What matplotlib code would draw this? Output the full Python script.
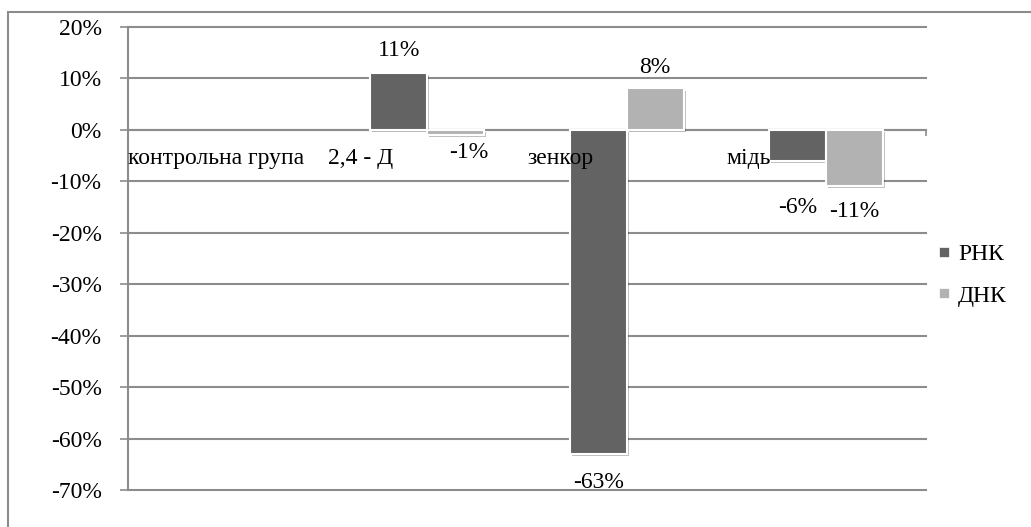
import numpy as np
import matplotlib
matplotlib.use("Agg")
import matplotlib.pyplot as plt
from matplotlib.lines import Line2D
from matplotlib.patches import Rectangle
import matplotlib.patheffects as pe

plt.rcParams['font.family'] = ['Liberation Serif', 'DejaVu Serif']

categories = ["контрольна група", "2,4 - Д", "зенкор", "мідь"]
series_names = ["РНК", "ДНК"]
rna = [np.nan, 0.11, -0.63, -0.06]
dna = [np.nan, -0.01, 0.08, -0.11]
y_ticks = [0.2, 0.1, 0.0, -0.1, -0.2, -0.3, -0.4, -0.5, -0.6, -0.7]

colors = ["#636363", "#b2b2b2"]
grid_col = "#8c8c8c"
FS = 17

W, H = 1031, 527
fig = plt.figure(figsize=(W / 100, H / 100), dpi=100)

def px(x0, y0, x1, y1):
    return [x0 / W, 1 - y1 / H, (x1 - x0) / W, (y1 - y0) / H]

ax = fig.add_axes(px(128, 26.7, 926, 490))

# outer chart frame (runs off the right and bottom of the canvas)
fig.patches.append(Rectangle((7.5 / W, -0.1), 1.2, 1 - 11.7 / H + 0.1,
                             transform=fig.transFigure, fill=False,
                             edgecolor=grid_col, linewidth=1.5, zorder=0))

x = np.arange(len(categories))
bw = 1 / 3.5
shadow = [pe.SimplePatchShadow(offset=(1.5, -1.5), shadow_rgbFace="#000000", alpha=0.25),
          pe.Normal()]
bars_r = ax.bar(x - bw / 2, rna, bw, color=colors[0], edgecolor="white",
                linewidth=1.5, zorder=3)
bars_d = ax.bar(x + bw / 2, dna, bw, color=colors[1], edgecolor="white",
                linewidth=1.5, zorder=3)
for b in list(bars_r) + list(bars_d):
    b.set_path_effects(shadow)

ax.set_xlim(-0.5, len(categories) - 0.5)
ax.set_ylim(-0.7, 0.2)

# value labels (pixel offsets from the bar end)
label_dy = {("r", 1): 23, ("d", 1): -18, ("r", 2): -29, ("d", 2): 21,
            ("r", 3): -47, ("d", 3): -25}
label_dx = {("d", 1): 13}
for key, vals, off in (("r", rna, -bw / 2), ("d", dna, bw / 2)):
    for i, v in enumerate(vals):
        if np.isnan(v):
            continue
        dy = label_dy[(key, i)] / 100 * 72
        dx = label_dx.get((key, i), 0) / 100 * 72
        ax.annotate(f"{round(v * 100):.0f}%", (i + off, v), xytext=(dx, dy),
                    textcoords="offset points", ha="center", va="center",
                    fontsize=FS, color="black", zorder=5)

# y axis
ax.set_yticks(y_ticks)
ax.set_yticklabels([f"{round(t * 100):.0f}%" for t in y_ticks], fontsize=FS)
ax.tick_params(axis="y", direction="out", length=5.5, width=1.2, color=grid_col,
               pad=13.5)
ax.yaxis.grid(True, color=grid_col, linewidth=1.5, zorder=1)
ax.set_axisbelow(True)
for gl in ax.get_ygridlines():
    gl.set_clip_on(False)

# x axis through zero, category labels left-aligned at category start
ax.spines["bottom"].set_position(("data", 0))
ax.spines["bottom"].set_color(grid_col)
ax.spines["bottom"].set_linewidth(1.5)
ax.spines["left"].set_color(grid_col)
ax.spines["left"].set_linewidth(1.5)
ax.spines["top"].set_visible(False)
ax.spines["right"].set_visible(False)
ax.set_xticks(x - 0.5)
ax.set_xticklabels(categories, fontsize=FS, ha="left")
ax.tick_params(axis="x", which="major", length=0, pad=13)
ax.set_xticks(np.arange(len(categories) + 1) - 0.5, minor=True)
ax.tick_params(axis="x", which="minor", direction="out", length=4.5, width=1.2,
               color=grid_col)
ax.xaxis.set_zorder(4)

handles = [Line2D([], [], marker="s", linestyle="none", markersize=7.5,
                  markerfacecolor=c, markeredgecolor="white", markeredgewidth=0.5)
           for c in colors]
fig.legend(handles, series_names, loc="center left",
           bbox_to_anchor=(937 / W, 1 - 275 / H), frameon=False, fontsize=FS,
           handlelength=0.6, handletextpad=0.3, labelspacing=0.85,
           borderpad=0, borderaxespad=0)

fig.savefig("out.png", dpi=100)
